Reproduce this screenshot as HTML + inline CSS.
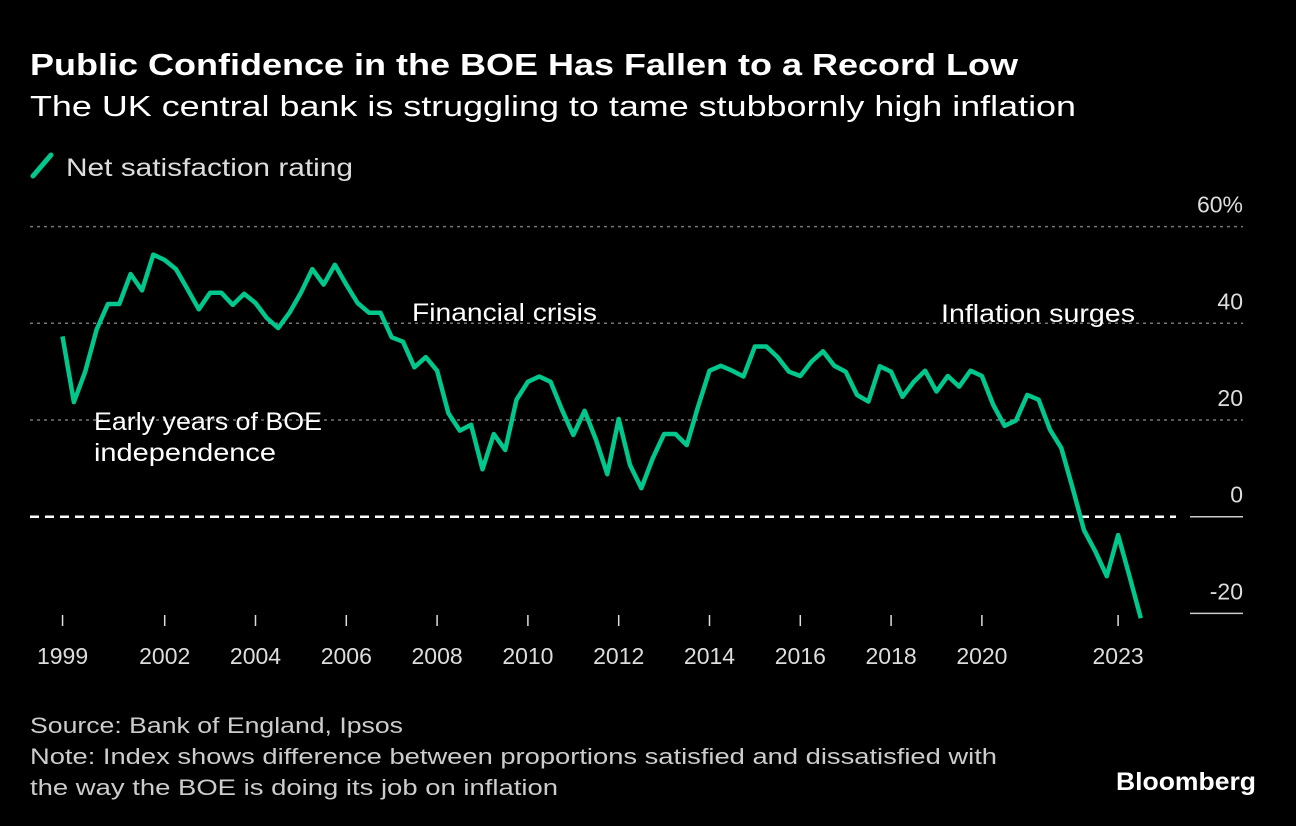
<!DOCTYPE html>
<html><head><meta charset="utf-8"><style>
html,body{margin:0;padding:0;background:#000;}
svg{display:block;font-family:"Liberation Sans",sans-serif;}
</style></head><body>
<svg id="chart" width="1296" height="826" viewBox="0 0 1296 826">
<rect width="1296" height="826" fill="#000"/>
<text x="30" y="75" fill="#fff" font-size="31" font-weight="bold" textLength="988" lengthAdjust="spacingAndGlyphs">Public Confidence in the BOE Has Fallen to a Record Low</text>
<text x="30" y="116" fill="#fff" font-size="29" textLength="1046" lengthAdjust="spacingAndGlyphs">The UK central bank is struggling to tame stubbornly high inflation</text>
<g>
<line x1="33" y1="176" x2="51" y2="155" stroke="#00c88c" stroke-width="5" stroke-linecap="round"/>
<text x="66" y="176" fill="#ddd" font-size="25" textLength="287" lengthAdjust="spacingAndGlyphs">Net satisfaction rating</text>
</g>
<g id="grid"></g>
<g id="ann">
<text x="94" y="430" fill="#fff" font-size="25" textLength="228" lengthAdjust="spacingAndGlyphs">Early years of BOE</text>
<text x="94" y="461" fill="#fff" font-size="25" textLength="182" lengthAdjust="spacingAndGlyphs">independence</text>
<text x="412" y="321" fill="#fff" font-size="25" textLength="185" lengthAdjust="spacingAndGlyphs">Financial crisis</text>
<text x="941" y="322" fill="#fff" font-size="25" textLength="194" lengthAdjust="spacingAndGlyphs">Inflation surges</text>
</g>
<g id="series"></g>
<text x="30" y="733" fill="#ccc" font-size="22" textLength="373" lengthAdjust="spacingAndGlyphs">Source: Bank of England, Ipsos</text>
<text x="30" y="764" fill="#ccc" font-size="22" textLength="967" lengthAdjust="spacingAndGlyphs">Note: Index shows difference between proportions satisfied and dissatisfied with</text>
<text x="30" y="795" fill="#ccc" font-size="22" textLength="528" lengthAdjust="spacingAndGlyphs">the way the BOE is doing its job on inflation</text>
<text x="1116" y="790" fill="#fff" font-size="25" font-weight="bold" textLength="140" lengthAdjust="spacingAndGlyphs">Bloomberg</text>
</svg>
<script>
const dates=[1999.75,2000.0,2000.25,2000.5,2000.75,2001.0,2001.25,2001.5,2001.75,2002.0,2002.25,2002.5,2002.75,2003.0,2003.25,2003.5,2003.75,2004.0,2004.25,2004.5,2004.75,2005.0,2005.25,2005.5,2005.75,2006.0,2006.25,2006.5,2006.75,2007.0,2007.25,2007.5,2007.75,2008.0,2008.25,2008.5,2008.75,2009.0,2009.25,2009.5,2009.75,2010.0,2010.25,2010.5,2010.75,2011.0,2011.25,2011.5,2011.75,2012.0,2012.25,2012.5,2012.75,2013.0,2013.25,2013.5,2013.75,2014.0,2014.25,2014.5,2014.75,2015.0,2015.25,2015.5,2015.75,2016.0,2016.25,2016.5,2016.75,2017.0,2017.25,2017.5,2017.75,2018.0,2018.25,2018.5,2018.75,2019.0,2019.25,2019.5,2019.75,2020.0,2020.25,2020.5,2020.75,2021.0,2021.25,2021.5,2021.75,2022.0,2022.25,2022.5,2022.75,2023.0,2023.25,2023.5];
const values=[37.3,23.7,30,38.7,44,44,50.2,46.8,54.2,53.1,51.2,47.1,42.9,46.3,46.3,43.8,46.1,44.2,41.1,39,42.2,46.3,51.2,48,52.1,48,44.2,42.2,42.2,37.1,36.2,30.9,33,30.2,21.4,17.8,19,9.8,17.1,13.8,24.2,27.9,29,27.9,22.1,16.9,21.9,15.9,8.8,20.2,10.7,5.9,12.1,17.1,17.1,14.8,22.8,30.2,31.2,30.2,29,35.2,35.2,33,30,29.1,32.1,34.2,31.2,30,25.2,23.8,31.1,30,24.8,27.9,30.2,25.9,29.1,26.9,30.2,29.1,23.1,18.8,19.9,25.2,24.2,18,14.2,5.9,-2.8,-7.2,-12.3,-3.8,-12.3,-21];
const xTickYears=[1999.75,2002,2004,2006,2008,2010,2012,2014,2016,2018,2020,2023];
const xTickLabels=["1999","2002","2004","2006","2008","2010","2012","2014","2016","2018","2020","2023"];
const yTicks=[-20,0,20,40,60];
const yTickLabels=["-20","0","20","40","60%"];
const NS="http://www.w3.org/2000/svg";
function xs(t){return 164.7+45.4*(t-2002);}
function ys(v){return 516.7-4.835*v;}
function mk(tag,attrs,parent){const e=document.createElementNS(NS,tag);for(const k in attrs)e.setAttribute(k,attrs[k]);parent.appendChild(e);return e;}
const grid=document.getElementById('grid');
yTicks.forEach((v,i)=>{
  const y=ys(v);
  if(v>0){
    const l=mk('line',{x1:30,x2:1243,y1:y,y2:y,stroke:'#777','stroke-width':1.5,'stroke-dasharray':'3 4'},grid);
    
    
  } else {
    const l=mk('line',{x1:1190,x2:1243,y1:y,y2:y,stroke:'#ccc','stroke-width':1.5},grid);
    
    
  }
  const t=mk('text',{x:1243,y:y-14,fill:'#ddd','font-size':23,'text-anchor':'end'},grid);
  t.textContent=yTickLabels[i];
  
  
});
const zl=mk('line',{x1:30,x2:1176,y1:ys(0),y2:ys(0),stroke:'#fff','stroke-width':2.5,'stroke-dasharray':'9 6'},grid);


xTickYears.forEach((t,i)=>{
  const x=xs(t);
  const tk=mk('line',{x1:x,x2:x,y1:615,y2:626,stroke:'#ddd','stroke-width':1.5},grid);
  
  
  const tx=mk('text',{x:x,y:664,fill:'#ddd','font-size':23,'text-anchor':'middle'},grid);
  tx.textContent=xTickLabels[i];
  
  
});
const series=document.getElementById('series');
const d=dates.map((t,i)=>(i?'L':'M')+xs(t).toFixed(1)+' '+ys(values[i]).toFixed(1)).join(' ');
const p=mk('path',{d:d,fill:'none',stroke:'#00c88c','stroke-width':4.5,'stroke-linejoin':'round'},series);


</script>
</body></html>
